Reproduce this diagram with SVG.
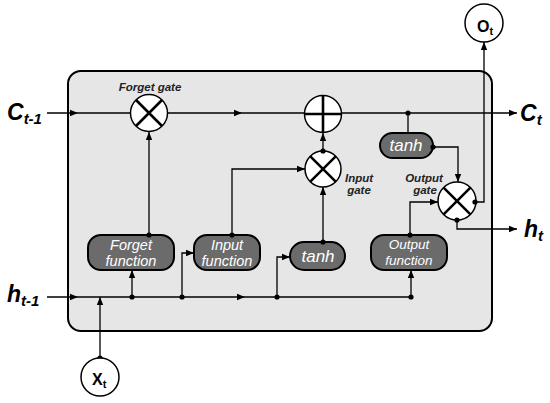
<svg xmlns="http://www.w3.org/2000/svg" width="550" height="403" viewBox="0 0 550 403">
<defs>
<style>
.ln{fill:none;stroke:#000;stroke-width:1.3}
.dot{fill:#000}
.op{fill:#fff;stroke:#000;stroke-width:1.5}
.sym{stroke:#000;stroke-width:2.6;fill:none}
.fn{fill:#6b6b6b;stroke:#000;stroke-width:2}
.fnt{font-family:"Liberation Sans",Arial,sans-serif;font-style:italic;fill:#fff;text-anchor:middle}
.lbl{font-family:"Liberation Sans",Arial,sans-serif;font-style:italic;font-weight:bold;fill:#222;text-anchor:middle;font-size:11.5px}
.big{font-family:"Liberation Sans",Arial,sans-serif;font-style:italic;font-weight:bold;fill:#000}
.io{font-family:"Liberation Sans",Arial,sans-serif;font-weight:bold;fill:#000}
</style>
<marker id="ah" markerWidth="9" markerHeight="8" refX="8" refY="4" orient="auto" markerUnits="userSpaceOnUse"><path d="M0,0.8 L8,4 L0,7.2 z" fill="#000"/></marker>
</defs>
<rect x="68" y="71" width="424" height="260" rx="13" fill="#e6e6e6" stroke="#000" stroke-width="2"/>
<g id="connectors">
<path class="ln" d="M47,113 L78,113 L131,113" marker-mid="url(#ah)"/>
<path class="ln" d="M167,113 L242,113 L305,113" marker-mid="url(#ah)"/>
<path class="ln" d="M341,113 L517,113" marker-end="url(#ah)"/>
<path class="ln" d="M47,297 L78,297 L245,297 L411,297" marker-mid="url(#ah)"/>
<path class="ln" d="M100,358 L100,297" marker-end="url(#ah)"/>
<path class="ln" d="M132,297 L132,270" marker-end="url(#ah)"/>
<path class="ln" d="M149,235 L149,132" marker-end="url(#ah)"/>
<path class="ln" d="M182,297 L182,253 L194,253" marker-end="url(#ah)"/>
<path class="ln" d="M232,235 L232,169 L305,169" marker-end="url(#ah)"/>
<path class="ln" d="M277,297 L277,257 L290,257" marker-end="url(#ah)"/>
<path class="ln" d="M323,242 L323,187" marker-end="url(#ah)"/>
<path class="ln" d="M323,151 L323,133" marker-end="url(#ah)"/>
<path class="ln" d="M411,297 L411,270" marker-end="url(#ah)"/>
<path class="ln" d="M410,235 L410,202 L438,202" marker-end="url(#ah)"/>
<path class="ln" d="M408,113 L408,133"/>
<path class="ln" d="M433,147 L458,147 L458,182" marker-end="url(#ah)"/>
<path class="ln" d="M475,202 L484,202 L484,42" marker-end="url(#ah)"/>
<path class="ln" d="M457,220 L457,229 L517,229" marker-end="url(#ah)"/>
<circle class="dot" cx="100" cy="358" r="2.6"/>
<circle class="dot" cx="132" cy="297" r="2.6"/>
<circle class="dot" cx="182" cy="297" r="2.6"/>
<circle class="dot" cx="277" cy="297" r="2.6"/>
<circle class="dot" cx="411" cy="297" r="2.6"/>
<circle class="dot" cx="408" cy="113" r="2.6"/>
</g>
<g id="forget-gate">
<circle class="op" cx="149" cy="113" r="18.5"/>
<path class="sym" d="M136,100 L162,126 M162,100 L136,126"/>
<text class="lbl" x="150" y="91">Forget gate</text>
</g>
<g id="plus">
<circle class="op" cx="323" cy="114" r="18.5"/>
<path class="sym" d="M304.5,114 L341.5,114 M323,95.5 L323,132.5"/>
</g>
<g id="input-gate">
<circle class="op" cx="323" cy="169" r="18"/>
<path class="sym" d="M310.3,156.3 L335.7,181.7 M335.7,156.3 L310.3,181.7"/>
<circle class="dot" cx="323" cy="151" r="2.6"/>
<text class="lbl" x="359" y="182">Input</text>
<text class="lbl" x="359" y="194">gate</text>
</g>
<g id="output-gate">
<circle class="op" cx="457" cy="201" r="19"/>
<path class="sym" d="M443.6,187.6 L470.4,214.4 M470.4,187.6 L443.6,214.4"/>
<circle class="dot" cx="475" cy="202" r="2.6"/>
<circle class="dot" cx="457" cy="220" r="2.6"/>
<text class="lbl" x="424" y="182">Output</text>
<text class="lbl" x="425" y="194">gate</text>
</g>
<g id="forget-function">
<rect class="fn" x="88" y="235" width="86" height="35" rx="13"/>
<circle class="dot" cx="149" cy="235" r="2.6"/>
<text class="fnt" x="131" y="250" font-size="14.5">Forget</text>
<text class="fnt" x="131" y="266" font-size="14.5">function</text>
</g>
<g id="input-function">
<rect class="fn" x="194" y="235" width="66" height="35" rx="13"/>
<circle class="dot" cx="232" cy="235" r="2.6"/>
<text class="fnt" x="227" y="250" font-size="14.5">Input</text>
<text class="fnt" x="227" y="266" font-size="14.5">function</text>
</g>
<g id="tanh-lower">
<rect class="fn" x="290" y="242" width="55" height="28" rx="14"/>
<circle class="dot" cx="323" cy="242" r="2.6"/>
<text class="fnt" x="318" y="262" font-size="17">tanh</text>
</g>
<g id="output-function">
<rect class="fn" x="371" y="235" width="76" height="35" rx="13"/>
<circle class="dot" cx="410" cy="235" r="2.6"/>
<text class="fnt" x="409" y="249" font-size="13.5">Output</text>
<text class="fnt" x="409" y="265" font-size="13.5">function</text>
</g>
<g id="tanh-upper">
<rect class="fn" x="380" y="133" width="53" height="25" rx="12.5"/>
<circle class="dot" cx="433" cy="147" r="2.6"/>
<text class="fnt" x="406" y="151" font-size="17">tanh</text>
</g>
<g id="ot">
<circle class="op" cx="484" cy="23" r="19"/>
<text class="io" x="477" y="32" font-size="16">O<tspan font-size="11" dy="3">t</tspan></text>
</g>
<g id="xt">
<circle class="op" cx="100" cy="377" r="19"/>
<text class="io" x="92" y="385" font-size="16">X<tspan font-size="11" dy="3">t</tspan></text>
</g>
<g id="labels">
<text class="big" x="7" y="120" font-size="23">C<tspan font-size="15" dy="4">t-1</tspan></text>
<text class="big" x="7" y="302" font-size="23">h<tspan font-size="15" dy="4">t-1</tspan></text>
<text class="big" x="520" y="121" font-size="23">C<tspan font-size="15" dy="4">t</tspan></text>
<text class="big" x="524" y="237" font-size="23">h<tspan font-size="15" dy="4">t</tspan></text>
</g>
</svg>
